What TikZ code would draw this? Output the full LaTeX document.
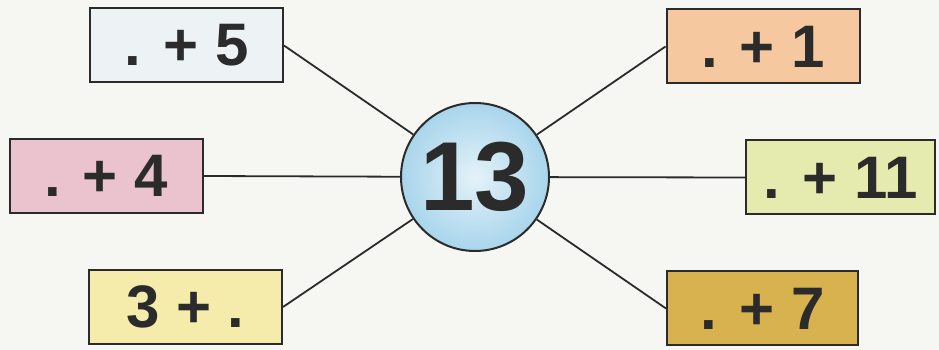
\documentclass[tikz,border=0pt]{standalone}
\usepackage{fontspec}
\setmainfont{Liberation Sans}
\usetikzlibrary{positioning}
\definecolor{paper}{HTML}{F6F6F3}
\definecolor{ink}{HTML}{2B2B2B}
\definecolor{boxblue}{HTML}{EDF2F5}
\definecolor{boxpeach}{HTML}{F5C8A0}
\definecolor{boxpink}{HTML}{EBC3CE}
\definecolor{boxlime}{HTML}{E5EAAF}
\definecolor{boxcream}{HTML}{F5ECAC}
\definecolor{boxgold}{HTML}{D8B24F}
\definecolor{hubin}{HTML}{E4F2F8}
\definecolor{hubout}{HTML}{A8D5EC}
\tikzset{
  sumbox/.style={draw=ink, line width=2pt, minimum width=193pt, minimum height=74pt,
    inner sep=0pt, text=ink, font=\bfseries\fontsize{60}{72}\selectfont},
  hub/.style={draw=ink, line width=2pt, circle, minimum size=148pt, inner sep=0pt,
    inner color=hubin, outer color=hubout,
    text=ink, font=\bfseries\fontsize{98}{110}\selectfont},
  spoke/.style={draw=ink, line width=1.8pt},
}

\begin{document}
\begin{tikzpicture}[x=1pt, y=1pt]
    \fill[paper] (0,0) rectangle (939,350);
    \useasboundingbox (0,0) rectangle (939,350);
    \node[hub]                    (C)  at (475,173)     {13};
    \node[sumbox, fill=boxblue]   (B5) at (186.5,304.5) {. + 5};
    \node[sumbox, fill=boxpink]   (B4) at (106,174)     {. + 4};
    \node[sumbox, fill=boxcream]  (B3) at (185.5,43)    {3 + .};
    \node[sumbox, fill=boxpeach]  (B1) at (763,303.5)   {. + 1};
    \node[sumbox, fill=boxlime, minimum width=189pt] (B11) at (840.5,172.5) {. + 11};
    \node[sumbox, fill=boxgold, minimum width=191pt] (B7) at (762.5,41.5) {. + 7};
    \path[spoke]
      (B5.east) -- (C)
      (B4.east) -- (C)
      (B3.east) -- (C)
      (B1.west) -- (C)
      (B11.west) -- (C)
      (B7.west) -- (C);
  \end{tikzpicture}
\end{document}
